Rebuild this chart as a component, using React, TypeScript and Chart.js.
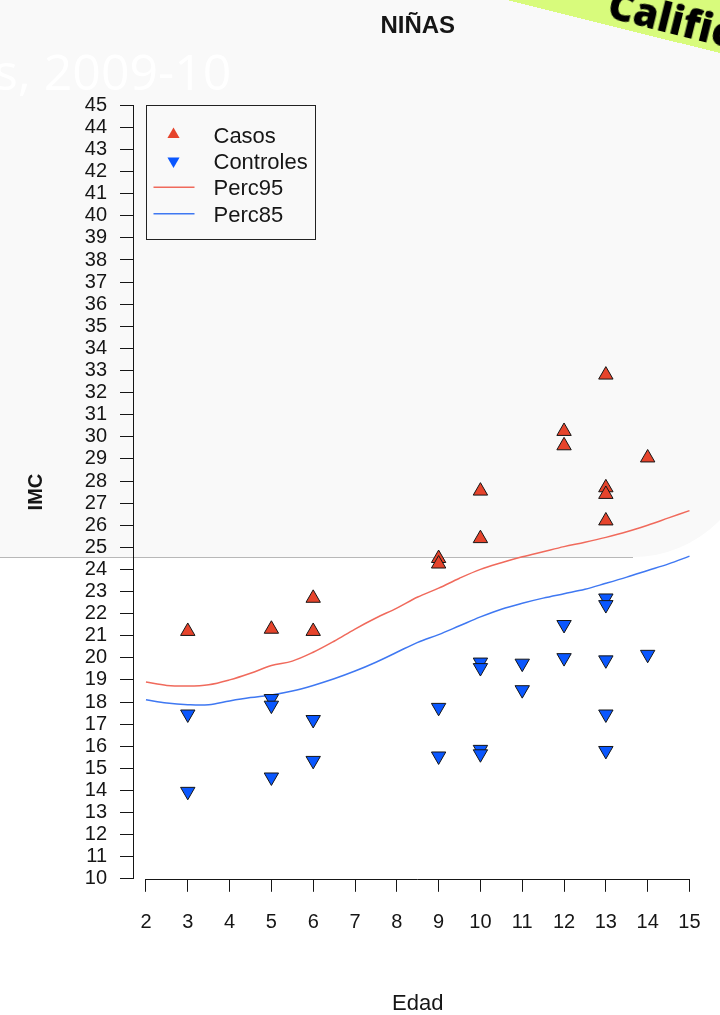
import React, { useEffect, useRef } from "react";
import { Chart, registerables } from "chart.js";

Chart.register(...registerables);

// ---------- data ----------
const xTicks = [2, 3, 4, 5, 6, 7, 8, 9, 10, 11, 12, 13, 14, 15];
const yTicks = [
  10, 11, 12, 13, 14, 15, 16, 17, 18, 19, 20, 21, 22, 23, 24, 25, 26, 27,
  28, 29, 30, 31, 32, 33, 34, 35, 36, 37, 38, 39, 40, 41, 42, 43, 44, 45,
];

const casosEdad = [3, 5, 6, 6, 9, 9, 10, 10, 12, 12, 13, 13, 13, 13, 14];
const casosImc = [21.2, 21.3, 22.7, 21.2, 24.5, 24.25, 27.55, 25.4, 30.25, 29.6, 32.8, 27.7, 27.4, 26.2, 29.05];

const controlesEdad = [3, 3, 5, 5, 5, 6, 6, 9, 9, 10, 10, 10, 10, 11, 11, 12, 12, 13, 13, 13, 13, 13, 14];
const controlesImc = [
  17.45, 13.95, 18.15, 17.85, 14.6, 17.2, 15.35, 17.75, 15.55, 19.8, 19.55, 15.85,
  15.65, 19.75, 18.55, 21.5, 20.0, 22.7, 22.4, 19.9, 17.45, 15.8, 20.15,
];

const percEdad = [
  2, 2.5, 3, 3.5, 4, 4.5, 5, 5.5, 6, 6.5, 7, 7.5, 8, 8.5, 9, 9.5, 10, 10.5, 11,
  11.5, 12, 12.5, 13, 13.5, 14, 14.5, 15,
];
const perc95 = [
  18.9, 18.75, 18.72, 18.78, 19.0, 19.3, 19.65, 19.85, 20.25, 20.75, 21.3, 21.8,
  22.25, 22.75, 23.15, 23.6, 24.0, 24.3, 24.57, 24.8, 25.03, 25.23, 25.45, 25.7,
  26.0, 26.33, 26.66,
];
const perc85 = [
  18.1, 17.95, 17.88, 17.88, 18.05, 18.2, 18.32, 18.5, 18.75, 19.05, 19.4, 19.8,
  20.25, 20.7, 21.05, 21.45, 21.85, 22.2, 22.47, 22.7, 22.9, 23.1, 23.37, 23.65,
  23.95, 24.25, 24.6,
];

const legendLabels = ["Casos", "Controles", "Perc95", "Perc85"];
const chartTitle = "NIÑAS";
const xTitle = "Edad";
const yTitle = "IMC";

// ---------- styles ----------
const FONT = '"Liberation Sans", Arial, Helvetica, sans-serif';
const RED_FILL = "#e6442c";
const BLUE_FILL = "#0a57ff";
const RED_LINE = "#f06a5c";
const BLUE_LINE = "#3f78f2";
const INK = "#161616";

const pts = (xs: number[], ys: number[]) => xs.map((x, i) => ({ x, y: ys[i] }));

const axisLinePlugin = {
  id: "rAxisLine",
  afterDraw(chart: any) {
    const { ctx, chartArea, scales } = chart;
    const x1 = scales.x.getPixelForValue(xTicks[0]);
    const x2 = scales.x.getPixelForValue(xTicks[xTicks.length - 1]);
    const y = Math.round(chartArea.bottom) + 0.5;
    ctx.save();
    ctx.strokeStyle = INK;
    ctx.lineWidth = 1;
    ctx.beginPath();
    ctx.moveTo(x1, y);
    ctx.lineTo(x2, y);
    ctx.stroke();
    ctx.restore();
  },
};

const legendPlugin = {
  id: "rLegend",
  afterDraw(chart: any) {
    const { ctx, scales } = chart;
    const left = Math.round(scales.x.getPixelForValue(2)) + 0.5;
    const top = Math.round(scales.y.getPixelForValue(45)) + 0.5;
    const w = 169;
    const h = 134;
    ctx.save();
    ctx.strokeStyle = "#222";
    ctx.lineWidth = 1;
    ctx.strokeRect(left, top, w, h);
    chart.data.datasets.forEach((ds: any, i: number) => {
      const cy = top + 31 + i * 26.4;
      const mx = left + 27;
      const my = cy - 2;
      if (ds.showLine) {
        ctx.strokeStyle = ds.borderColor;
        ctx.lineWidth = 1.5;
        ctx.beginPath();
        ctx.moveTo(left + 7, my);
        ctx.lineTo(left + 48, my);
        ctx.stroke();
      } else {
        const r = 7;
        const s = ds.pointRotation === 180 ? -1 : 1;
        const dx = r * Math.sin((Math.PI / 3) * 2);
        ctx.fillStyle = ds.backgroundColor;
        ctx.beginPath();
        ctx.moveTo(mx, my - s * r);
        ctx.lineTo(mx + dx, my + (s * r) / 2);
        ctx.lineTo(mx - dx, my + (s * r) / 2);
        ctx.closePath();
        ctx.fill();
      }
      ctx.fillStyle = INK;
      ctx.font = `22px ${FONT}`;
      ctx.textAlign = "left";
      ctx.textBaseline = "middle";
      ctx.fillText(ds.label, left + 67, cy);
    });
    ctx.restore();
  },
};

export default function App() {
  const ref = useRef<HTMLCanvasElement>(null);

  useEffect(() => {
    if (!ref.current) return;
    const chart = new Chart(ref.current, {
      type: "scatter",
      data: {
        datasets: [
          {
            label: legendLabels[0],
            data: pts(casosEdad, casosImc),
            showLine: false,
            pointStyle: "triangle",
            pointRadius: 8.3,
            pointHoverRadius: 8.3,
            backgroundColor: RED_FILL,
            pointBackgroundColor: RED_FILL,
            pointBorderColor: INK,
            pointBorderWidth: 1,
          },
          {
            label: legendLabels[1],
            data: pts(controlesEdad, controlesImc),
            showLine: false,
            pointStyle: "triangle",
            pointRotation: 180,
            pointRadius: 8.3,
            pointHoverRadius: 8.3,
            backgroundColor: BLUE_FILL,
            pointBackgroundColor: BLUE_FILL,
            pointBorderColor: INK,
            pointBorderWidth: 1,
          },
          {
            label: legendLabels[2],
            data: pts(percEdad, perc95),
            showLine: true,
            borderColor: RED_LINE,
            borderWidth: 1.5,
            pointRadius: 0,
            tension: 0.35,
            fill: false,
          },
          {
            label: legendLabels[3],
            data: pts(percEdad, perc85),
            showLine: true,
            borderColor: BLUE_LINE,
            borderWidth: 1.5,
            pointRadius: 0,
            tension: 0.35,
            fill: false,
          },
        ] as any,
      },
      options: {
        responsive: false,
        animation: false,
        devicePixelRatio: 1,
        events: [],
        layout: { padding: { left: 0, right: 13, top: 0, bottom: 0 } },
        plugins: {
          legend: { display: false },
          tooltip: { enabled: false },
          title: {
            display: true,
            text: chartTitle,
            fullSize: false,
            color: INK,
            font: { family: FONT, size: 24, weight: "bold" },
            padding: { top: 11.6, bottom: 64.9 },
          },
        },
        scales: {
          x: {
            type: "linear",
            min: 1.69,
            max: 15.31,
            afterBuildTicks: (s: any) => {
              s.ticks = xTicks.map((v) => ({ value: v }));
            },
            afterFit: (s: any) => {
              s.height = 136.2;
            },
            grid: { drawOnChartArea: false, drawTicks: true, tickLength: 13, color: INK, lineWidth: 1 },
            border: { display: false },
            ticks: { autoSkip: false, maxRotation: 0, padding: 19, color: INK, font: { family: FONT, size: 20 } },
            title: { display: true, text: xTitle, color: INK, font: { family: FONT, size: 22 }, padding: { top: 0, bottom: -2 } },
          },
          y: {
            type: "linear",
            min: 10,
            max: 45,
            afterBuildTicks: (s: any) => {
              s.ticks = yTicks.map((v) => ({ value: v }));
            },
            afterFit: (s: any) => {
              s.width = 133;
            },
            grid: { drawOnChartArea: false, drawTicks: true, tickLength: 13, color: INK, lineWidth: 1 },
            border: { display: true, color: INK, width: 1 },
            ticks: { autoSkip: false, padding: 13, color: INK, font: { family: FONT, size: 20 } },
            title: { display: true, text: yTitle, color: INK, font: { family: FONT, size: 20, weight: "bold" }, padding: { top: 24, bottom: 0 } },
          },
        },
      } as any,
      plugins: [axisLinePlugin, legendPlugin],
    });
    return () => chart.destroy();
  }, []);

  return (
    <div style={{ position: "absolute", left: 0, top: 0, width: 720, height: 1015, overflow: "hidden", background: "#ffffff" }}>
      <div style={{ position: "absolute", left: -40, top: 0, width: 794, height: 557, background: "#f9f9f9", borderBottomRightRadius: 121 }} />
      <div style={{ position: "absolute", left: 0, top: 557, width: 633, height: 1, background: "#b8b8b8" }} />
      <div style={{ position: "absolute", left: -6, top: 37, font: '400 50px "Open Sans", sans-serif', color: "#ffffff", whiteSpace: "nowrap" }}>s, 2009-10</div>
      <canvas ref={ref} width={720} height={1015} style={{ position: "absolute", left: 0, top: 0, width: 720, height: 1015 }} />
      <div style={{ position: "absolute", left: 507, top: -140, width: 460, height: 140, background: "#d8fb7c", transformOrigin: "0 100%", transform: "rotate(14deg)", overflow: "hidden" }}>
        <span style={{ position: "absolute", left: 100, bottom: 2, font: '800 40px "Open Sans", sans-serif', lineHeight: 1, color: "#000", whiteSpace: "nowrap" }}>Calificación</span>
      </div>
    </div>
  );
}
